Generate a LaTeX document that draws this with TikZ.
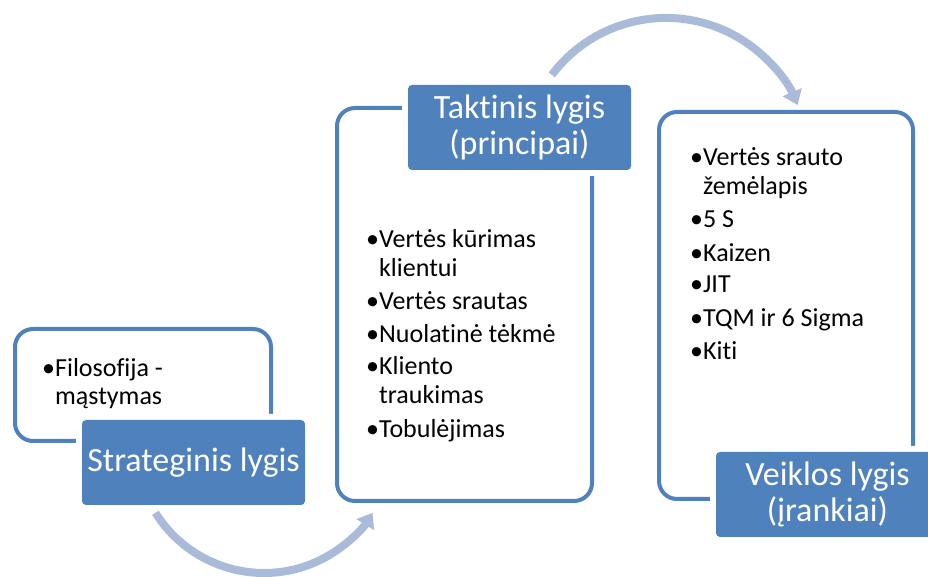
\documentclass[tikz,border=0pt]{standalone}
\usepackage{fontspec}
\setmainfont[Ligatures={NoCommon,NoContextual}]{Carlito}
\usetikzlibrary{arrows.meta}
\definecolor{accent}{RGB}{79,129,189}
\definecolor{arrowblue}{RGB}{170,187,218}
\tikzset{
  panel/.style={draw=accent, line width=4pt, fill=white, rounded corners=18pt, anchor=south west, inner sep=0pt},
  titlebox/.style={fill=accent, rounded corners=4pt, preaction={draw=white, line width=12pt, rounded corners=4pt},
    minimum width=223pt, minimum height=85pt, inner sep=0pt, text=white, align=center,
    font=\fontsize{34}{36}\selectfont},
  item/.style={anchor=base west, inner sep=0pt, font=\fontsize{26}{30}\selectfont, text=black},
  flow/.style={draw=arrowblue, line width=8pt, -{Triangle[width=20pt,length=14pt]}}
}
\begin{document}
\begin{tikzpicture}[x=1pt, y=1pt]
\useasboundingbox (0,0) rectangle (928,577);
\clip (0,0) rectangle (928,577);
\fill[white] (0,0) rectangle (928,577);

% arrows
\coordinate (a1s) at (155.5,64.2);
\draw[flow] (a1s) arc[start angle=212, end angle=328, radius=128];
\coordinate (a2s) at (551.8,502.1);
\draw[flow] (a2s) arc[start angle=143, end angle=23, radius=143];

% panel 1
\node[panel, minimum width=256pt, minimum height=112pt] (p1) at (13,134) {};
\node[item] (p1a) at (42,200) {•Filosofija -};
\node[item] (p1b) at (42,172) {\phantom{•}mąstymas};
\node[titlebox] (t1) at (193.5,114.5) {Strateginis lygis};

% panel 2
\node[panel, minimum width=255pt, minimum height=393pt] (p2) at (335,74) {};
\node[item] (p2a) at (366,329) {•Vertės kūrimas};
\node[item] (p2b) at (366,300) {\phantom{•}klientui};
\node[item] (p2c) at (366,267) {•Vertės srautas};
\node[item] (p2d) at (366,234) {•Nuolatinė tėkmė};
\node[item] (p2e) at (366,202) {•Kliento};
\node[item] (p2f) at (366,173) {\phantom{•}traukimas};
\node[item] (p2g) at (366,139) {•Tobulėjimas};
\node[titlebox] (t2) at (519.5,449.5) {Taktinis lygis\\(principai)};

% panel 3
\node[panel, minimum width=254pt, minimum height=387pt] (p3) at (657,76) {};
\node[item] (p3a) at (690,411) {•Vertės srauto};
\node[item] (p3b) at (690,382) {\phantom{•}žemėlapis};
\node[item] (p3c) at (690,349) {•5 S};
\node[item] (p3d) at (690,315) {•Kaizen};
\node[item] (p3e) at (690,284) {•JIT};
\node[item] (p3f) at (690,250) {•TQM ir 6 Sigma};
\node[item] (p3g) at (690,217) {•Kiti};
\node[titlebox] (t3) at (827.5,82.5) {Veiklos lygis\\(įrankiai)};
\end{tikzpicture}
\end{document}
